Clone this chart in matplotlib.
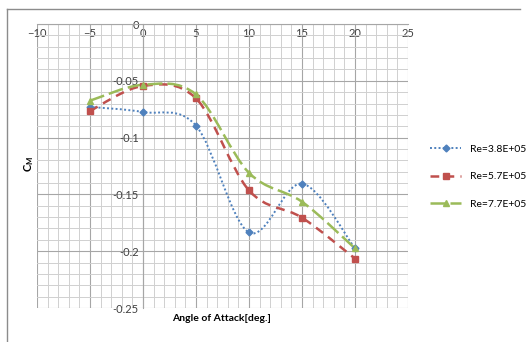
import matplotlib.pyplot as plt
import numpy as np
from matplotlib.path import Path
from matplotlib.patches import PathPatch
from matplotlib.lines import Line2D
from matplotlib.ticker import MultipleLocator

plt.rcParams["font.family"] = ["Lato", "DejaVu Sans"]

alpha = [-5, 0, 5, 10, 15, 20]
cm_38 = [-0.073, -0.0775, -0.0895, -0.1835, -0.1405, -0.1975]
cm_57 = [-0.0765, -0.0545, -0.0655, -0.1465, -0.1705, -0.2065]
cm_77 = [-0.0675, -0.0535, -0.062, -0.131, -0.1565, -0.1975]
labels = ["Re=3.8E+05", "Re=5.7E+05", "Re=7.7E+05"]
xticks = [-10, -5, 0, 5, 10, 15, 20, 25]
yticks = [0, -0.05, -0.1, -0.15, -0.2, -0.25]


def smooth_path(x, y):
    # Excel-style smoothed line: Catmull-Rom segments as cubic Bezier
    p = np.column_stack([x, y]).astype(float)
    ext = np.vstack([p[0], p, p[-1]])
    verts = [p[0]]
    codes = [Path.MOVETO]
    for i in range(len(p) - 1):
        p0, p1, p2, p3 = ext[i], ext[i + 1], ext[i + 2], ext[i + 3]
        verts += [p1 + (p2 - p0) / 6, p2 - (p3 - p1) / 6, p2]
        codes += [Path.CURVE4] * 3
    return Path(verts, codes)


fig = plt.figure(figsize=(5.29, 3.42), dpi=100)
ax = fig.add_axes([0.0699, 0.0994, 0.7014, 0.8304])

series = [
    (cm_38, "#4F81BD", (0, (1, 1.2)), 1.4, "D", 3.5),
    (cm_57, "#C0504D", (0, (3.5, 2.5)), 1.8, "s", 4.5),
    (cm_77, "#9BBB59", (0, (6, 2)), 1.8, "^", 5),
]
handles = []
for (vals, col, ls, lw, mk, ms), lab in zip(series, labels):
    patch = PathPatch(smooth_path(alpha, vals), facecolor="none", edgecolor=col,
                      linestyle=ls, linewidth=lw, zorder=3)
    ax.add_patch(patch)
    ax.plot(alpha, vals, linestyle="none", marker=mk, color=col, markersize=ms, zorder=4)
    handles.append(Line2D([], [], color=col, linestyle=ls, linewidth=lw,
                          marker=mk, markersize=ms))

ax.set_xlim(-10, 25)
ax.set_ylim(-0.25, 0)
ax.set_xticks(xticks)
ax.set_yticks(yticks)
ax.set_yticklabels(["0", "-0.05", "-0.1", "-0.15", "-0.2", "-0.25"])
ax.xaxis.set_minor_locator(MultipleLocator(1))
ax.yaxis.set_minor_locator(MultipleLocator(0.01))
ax.grid(which="major", color="#a6a6a6", linewidth=0.8)
ax.grid(which="minor", color="#d0d0d0", linewidth=0.7)
ax.set_axisbelow(True)

ax.spines["top"].set_visible(False)
ax.spines["right"].set_visible(False)
ax.spines["left"].set_position(("data", 0))
ax.spines["bottom"].set_position(("data", 0))
ax.spines["left"].set_color("#a6a6a6")
ax.spines["bottom"].set_color("#a6a6a6")
ax.tick_params(which="both", length=0, labelsize=8, colors="#404040", pad=3)

fig.text(222 / 529, 0.07, "Angle of Attack[deg.]", ha="center",
         va="center", fontsize=7.5, fontweight="bold")
fig.text(0.055, 0.52, "C$_\\mathregular{M}$", rotation=90, ha="center", va="center",
         fontsize=8, fontweight="bold")

fig.legend(handles, labels, loc="center left", bbox_to_anchor=(0.795, 0.483),
           frameon=False, fontsize=7.5, handlelength=3, labelspacing=1.75)

# chart area border (only top and left edges are visible in the crop)
fig.add_artist(Line2D([7 / 529, 520 / 529], [1 - 9 / 342, 1 - 9 / 342],
                      transform=fig.transFigure, color="#8c8c8c", linewidth=1.0))
fig.add_artist(Line2D([7 / 529, 7 / 529], [1 - 9 / 342, 0],
                      transform=fig.transFigure, color="#8c8c8c", linewidth=1.0))

plt.savefig("out.png", dpi=100)
